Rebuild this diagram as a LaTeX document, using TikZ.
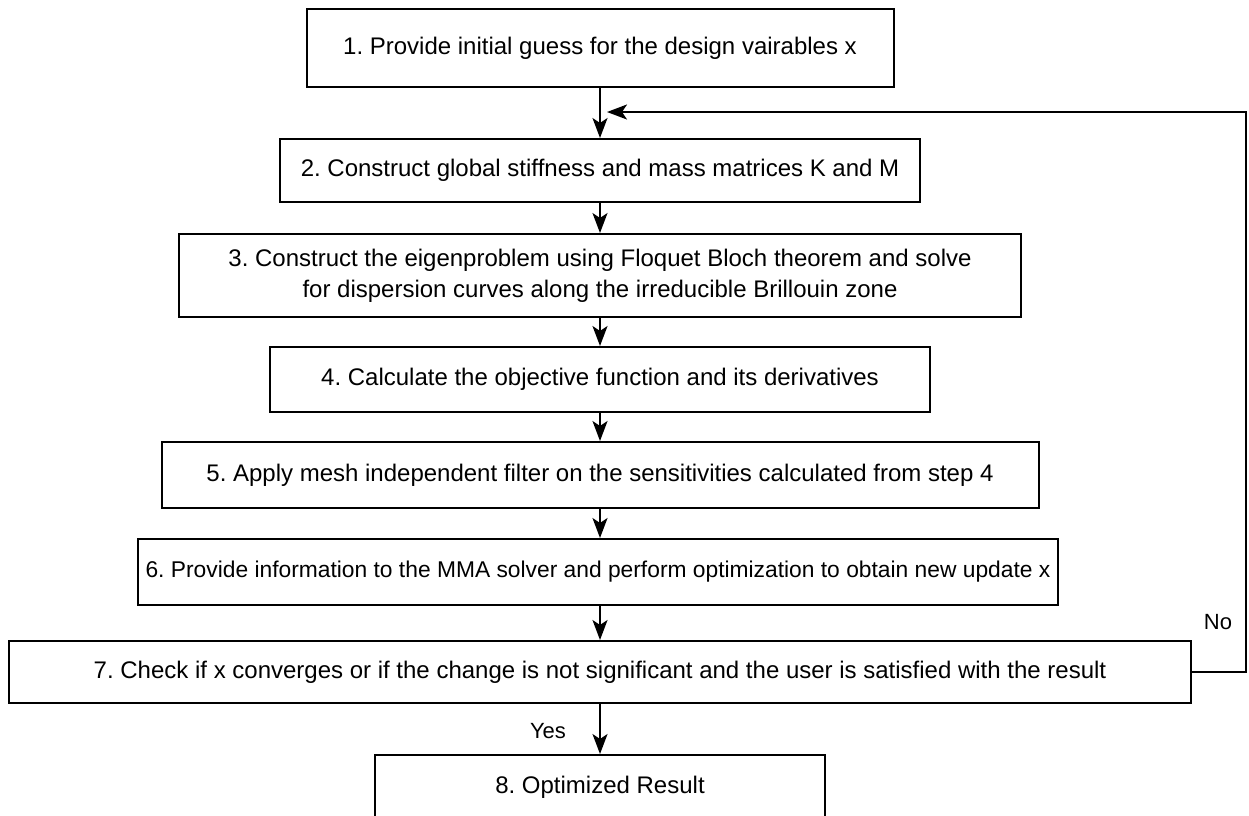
\documentclass[tikz,border=0pt]{standalone}
\usepackage{fontspec}
\setmainfont{Liberation Sans}
\usetikzlibrary{arrows.meta}
\frenchspacing
\begin{document}
\begin{tikzpicture}[x=1pt,y=-1pt,
  stepbox/.style={draw=black, line width=2pt, fill=white, inner sep=0pt, align=center, font=\fontsize{24}{31}\selectfont},
  smallbox/.style={stepbox, font=\fontsize{22.8}{29}\selectfont},
  flow/.style={draw=black, line width=2pt, -{Stealth[length=20pt,width=15pt,inset=5pt]}},
  lbl/.style={font=\fontsize{22}{26}\selectfont, inner sep=0pt}]
\clip (0,0) rectangle (1249,815);
\fill[white] (0,0) rectangle (1249,815);
\node[stepbox, minimum width=587pt, minimum height=78pt] (b1) at (600,48) {1. Provide initial guess for the design vairables x};
\node[stepbox, minimum width=640pt, minimum height=63pt] (b2) at (600,170.5) {2. Construct global stiffness and mass matrices K and M};
\node[stepbox, minimum width=842pt, minimum height=83pt] (b3) at (600,275.5) {3. Construct the eigenproblem using Floquet Bloch theorem and solve\\for dispersion curves along the irreducible Brillouin zone};
\node[stepbox, minimum width=660pt, minimum height=65pt] (b4) at (600,379.5) {4. Calculate the objective function and its derivatives};
\node[stepbox, minimum width=877pt, minimum height=66pt] (b5) at (600,475) {5. Apply mesh independent filter on the sensitivities calculated from step 4};
\node[smallbox, minimum width=920pt, minimum height=66pt] (b6) at (598,572) {6. Provide information to the MMA solver and perform optimization to obtain new update x};
\node[stepbox, minimum width=1182pt, minimum height=62pt] (b7) at (600,672) {7. Check if x converges or if the change is not significant and the user is satisfied with the result};
\node[stepbox, minimum width=450pt, minimum height=64pt] (b8) at (600,787) {8. Optimized Result};
\draw[flow] (b1) -- (b2);
\draw[flow] (b2) -- (b3);
\draw[flow] (b3) -- (b4);
\draw[flow] (b4) -- (b5);
\draw[flow] (b5) -- (b5 |- b6.north);
\draw[flow] (b6.south -| b7) -- (b7);
\draw[flow] (b7) -- (b8);
\coordinate (lr) at (1246,672);
\coordinate (lt) at (1246,112);
\coordinate (lend) at (607,112);
\draw[flow] (b7.east) -- (lr) -- (lt) -- (lend);
\node[lbl] (no) at (1218,622) {No};
\node[lbl] (yes) at (548,731) {Yes};
\end{tikzpicture}
\end{document}
